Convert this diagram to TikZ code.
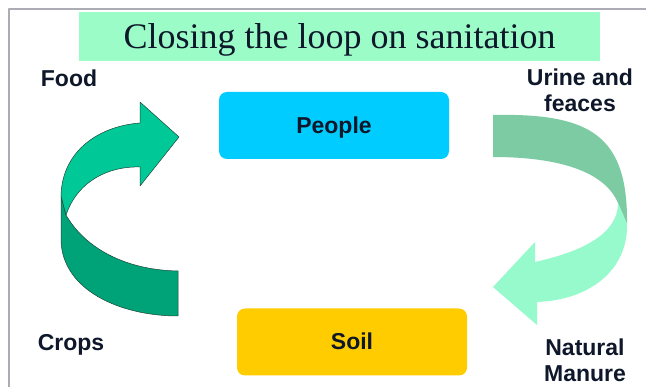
\documentclass[tikz,border=0pt]{standalone}
\usepackage{fontspec}
\setmainfont{Liberation Serif}
\setsansfont{Liberation Sans}
\usepackage{tikz}
\usetikzlibrary{calc}
\definecolor{loopTitle}{RGB}{155,252,200}
\definecolor{loopPeople}{RGB}{0,204,255}
\definecolor{loopSoil}{RGB}{255,204,0}
\definecolor{loopInk}{RGB}{14,24,42}
\definecolor{cropTop}{RGB}{0,200,150}
\definecolor{cropLow}{RGB}{0,162,120}
\definecolor{cropEdge}{RGB}{30,70,55}
\definecolor{wasteTop}{RGB}{125,203,163}
\definecolor{wasteLow}{RGB}{150,250,205}
\definecolor{frameGray}{RGB}{172,172,180}
\tikzset{
  stagebox/.style={rounded corners=8pt, minimum width=230pt, minimum height=67pt, inner sep=0pt,
    text height=16pt, text depth=0pt, font=\sffamily\bfseries\fontsize{23}{26}\selectfont, text=loopInk},
  looptag/.style={anchor=base, align=center, inner sep=0pt,
    font=\sffamily\bfseries\fontsize{23}{26}\selectfont, text=loopInk},
}

\begin{document}
\begin{tikzpicture}[x=1pt, y=-1pt, line join=round]

  \useasboundingbox[fill=white] (0,0) rectangle (646,387);
  \draw[frameGray, line width=1.3pt] (9,387) -- (9,9) -- (646,9);

  \node (Title) [fill=loopTitle, minimum width=521pt, minimum height=49pt, inner sep=0pt,
    text height=25pt, text depth=0pt, font=\fontsize{36}{40}\selectfont, text=loopInk]
    at (339.5,36.5) {Closing the loop on sanitation};

  \node (People) [stagebox, fill=loopPeople] at (334,125.5) {People};
  \node (Soil) [stagebox, fill=loopSoil] at (352,342) {Soil};

  % crops back up to people
  \coordinate (Ctwist) at (61,196);
  \coordinate (Cinner) at (66,215);
  \filldraw[fill=cropLow, draw=cropEdge, line width=0.5pt] (Ctwist) -- (Cinner)
    .. controls (85,248) and (125,270) .. (178,271) -- (178,316)
    .. controls (120,316) and (62,290) .. (61,240) -- cycle;
  \filldraw[fill=cropTop, draw=cropEdge, line width=0.5pt] (Ctwist)
    .. controls (62,150) and (100,126) .. (140,123) -- (140,102) -- (179,137) -- (140,186) -- (140,167)
    .. controls (110,166) and (78,180) .. (Cinner) -- cycle;

  % waste down to soil
  \coordinate (Wtwist) at (618,203);
  \coordinate (Wouter) at (627,224);
  \fill[wasteTop] (493,115) .. controls (590,113) and (628,135) .. (Wouter) -- (Wtwist)
    .. controls (605,172) and (560,157) .. (493,157) -- cycle;
  \fill[wasteLow] (Wtwist) -- (Wouter) .. controls (628,270) and (590,300) .. (537,302)
    -- (537,325) -- (493,287) -- (535,242) -- (535,262)
    .. controls (580,252) and (618,235) .. (Wtwist) -- cycle;

  \node (Food) [looptag] at (69,87) {Food};
  \node (Urine) [looptag] at (580,112) {Urine and\\feaces};
  \node (Crops) [looptag] at (71,351) {Crops};
  \node (Manure) [looptag] at (585,382) {Natural\\Manure};

\end{tikzpicture}
\end{document}
